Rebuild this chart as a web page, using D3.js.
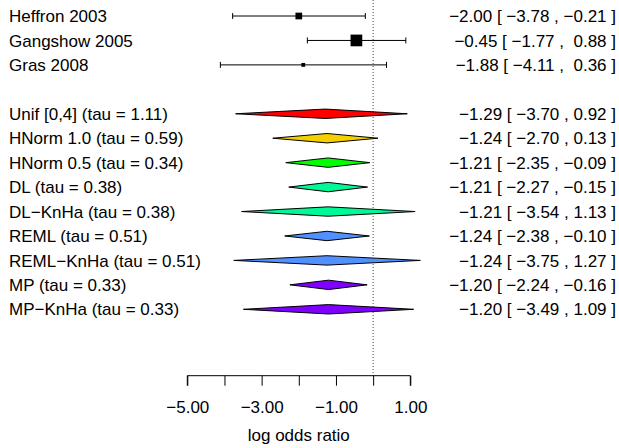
<!DOCTYPE html>
<html>
<head>
<meta charset="utf-8">
<script src="https://cdn.jsdelivr.net/npm/d3@7"></script>
<style>
  body { margin: 0; background: #fff; }
  svg text { font-family: Arial, "Liberation Sans", Helvetica, sans-serif; font-size: 17px; fill: #000; }
  .num { white-space: pre; }
</style>
</head>
<body>
<script>
(function() {
    var w = 619,
        h = 448;

    // studies
    var studyNames = ['Heffron 2003', 'Gangshow 2005', 'Gras 2008'];
    var studyEst = [-2.00, -0.45, -1.88];
    var studyLo = [-3.78, -1.77, -4.11];
    var studyHi = [-0.21, 0.88, 0.36];
    var studySize = [6.7, 11.7, 3.8]; // square side, px (weight)

    // summary estimates
    var sumNames = ['Unif [0,4] (tau = 1.11)', 'HNorm 1.0 (tau = 0.59)', 'HNorm 0.5 (tau = 0.34)',
        'DL (tau = 0.38)', 'DL\u2212KnHa (tau = 0.38)', 'REML (tau = 0.51)',
        'REML\u2212KnHa (tau = 0.51)', 'MP (tau = 0.33)', 'MP\u2212KnHa (tau = 0.33)'];
    var sumEst = [-1.29, -1.24, -1.21, -1.21, -1.21, -1.24, -1.24, -1.20, -1.20];
    var sumLo = [-3.70, -2.70, -2.35, -2.27, -3.54, -2.38, -3.75, -2.24, -3.49];
    var sumHi = [0.92, 0.13, -0.09, -0.15, 1.13, -0.10, 1.27, -0.16, 1.09];
    var sumCol = ['#ff0000', '#f5d000', '#00ff00', '#00f896', '#00f896',
        '#5090ff', '#5090ff', '#7f00ff', '#7f00ff'];

    var tickVals = d3.range(-5, 2, 1);
    var tickLabels = [-5, -3, -1, 1];

    var x = d3.scaleLinear().domain([-5, 1]).range([187.3, 410.3]);
    // rows: 3 studies, a blank row, then 9 summaries
    var y = d3.scaleLinear().domain([0, 12]).range([16, 309.3]);

    var fmt = function(v) { return (v < 0 ? '\u2212' : ' ') + Math.abs(v).toFixed(2); };
    var ciText = function(e, l, u, pad) {
        var f = pad ? fmt : function(v) { return fmt(v).trim(); };
        return fmt(e).trim() + ' [ ' + f(l) + ' , ' + f(u) + ' ]';
    };

    var svg = d3.select('body').append('svg')
        .attr('width', w)
        .attr('height', h);

    // reference line at 0
    svg.append('line')
        .attr('x1', x(0)).attr('x2', x(0))
        .attr('y1', 0).attr('y2', 375.7)
        .attr('stroke', '#444')
        .attr('stroke-width', 1)
        .attr('stroke-dasharray', '1,2');

    // study rows
    var studies = studyNames.map(function(n, i) {
        return {name: n, est: studyEst[i], lo: studyLo[i], hi: studyHi[i], size: studySize[i], row: i};
    });
    var sg = svg.selectAll('.study').data(studies).enter().append('g').attr('class', 'study');
    sg.append('line')
        .attr('x1', function(d) { return x(d.lo); })
        .attr('x2', function(d) { return x(d.hi); })
        .attr('y1', function(d) { return y(d.row); })
        .attr('y2', function(d) { return y(d.row); })
        .attr('stroke', '#000');
    ['lo', 'hi'].forEach(function(k) {
        sg.append('line')
            .attr('x1', function(d) { return x(d[k]); })
            .attr('x2', function(d) { return x(d[k]); })
            .attr('y1', function(d) { return y(d.row) - 3; })
            .attr('y2', function(d) { return y(d.row) + 3; })
            .attr('stroke', '#000');
    });
    sg.append('rect')
        .attr('x', function(d) { return x(d.est) - d.size / 2; })
        .attr('y', function(d) { return y(d.row) - d.size / 2; })
        .attr('width', function(d) { return d.size; })
        .attr('height', function(d) { return d.size; })
        .attr('fill', '#000');
    sg.append('text')
        .attr('x', 9)
        .attr('y', function(d) { return y(d.row); })
        .attr('dy', '0.36em')
        .text(function(d) { return d.name; });
    sg.append('text')
        .attr('class', 'num')
        .attr('x', 616)
        .attr('y', function(d) { return y(d.row); })
        .attr('dy', '0.36em')
        .attr('text-anchor', 'end')
        .text(function(d) { return ciText(d.est, d.lo, d.hi, true); });

    // summary diamonds
    var sums = sumNames.map(function(n, i) {
        return {name: n, est: sumEst[i], lo: sumLo[i], hi: sumHi[i], col: sumCol[i], row: i + 4};
    });
    var dh = 4.7;
    var dg = svg.selectAll('.summary').data(sums).enter().append('g').attr('class', 'summary');
    dg.append('polygon')
        .attr('points', function(d) {
            var yy = y(d.row);
            return [[x(d.lo), yy], [x(d.est), yy - dh], [x(d.hi), yy], [x(d.est), yy + dh]].join(' ');
        })
        .attr('fill', function(d) { return d.col; })
        .attr('stroke', '#000')
        .attr('stroke-width', 1);
    dg.append('text')
        .attr('x', 9)
        .attr('y', function(d) { return y(d.row); })
        .attr('dy', '0.36em')
        .text(function(d) { return d.name; });
    dg.append('text')
        .attr('class', 'num')
        .attr('x', 616)
        .attr('y', function(d) { return y(d.row); })
        .attr('dy', '0.36em')
        .attr('text-anchor', 'end')
        .text(function(d) { return ciText(d.est, d.lo, d.hi, false); });

    // x axis
    var axis = d3.axisBottom(x)
        .tickValues(tickVals)
        .tickSize(10)
        .tickPadding(15)
        .tickFormat(function(v) { return tickLabels.indexOf(v) >= 0 ? fmt(v).trim() : ''; });
    var ag = svg.append('g')
        .attr('transform', 'translate(0,375.7)')
        .call(axis);
    ag.attr('font-family', null).attr('font-size', null);
    ag.select('.domain').attr('d', 'M' + x(-5) + ',10V0H' + x(1) + 'V10');

    svg.append('text')
        .attr('x', x(-2))
        .attr('y', 441)
        .attr('text-anchor', 'middle')
        .text('log odds ratio');
})();
</script>
</body>
</html>
